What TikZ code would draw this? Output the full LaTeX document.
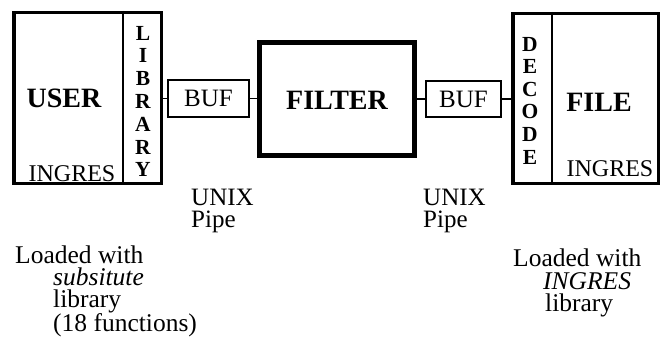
\documentclass[tikz,border=0pt]{standalone}
\usepackage{fontspec}
\setmainfont{Liberation Serif}
\usetikzlibrary{positioning}

\tikzset{
    procbox/.style={draw, line width=3.5pt, inner sep=0pt},
    bufbox/.style={draw, line width=1.8pt, inner sep=0pt, font=\fontsize{25}{25}\selectfont},
    pipeline/.style={line width=1.8pt},
    boxtitle/.style={inner sep=0pt, font=\fontsize{28}{28}\selectfont\bfseries},
    boxsub/.style={inner sep=0pt, font=\fontsize{24}{24}\selectfont},
    vletter/.style={inner sep=0pt, font=\fontsize{21.5}{21.5}\selectfont\bfseries},
    note/.style={anchor=north west, align=left, inner sep=0pt, font=\fontsize{25}{22}\selectfont},
}

\begin{document}
\begin{tikzpicture}[x=1pt, y=-1pt]
    \useasboundingbox (0,0) rectangle (663,337);

    % Left: user process with its library
    \node[procbox, minimum width=147.5pt, minimum height=170.5pt] (user) at (87.5,98) {};
    \coordinate (userdiv) at (123,0);
    \draw[pipeline] (user.north -| userdiv) -- (user.south -| userdiv);
    \node[boxtitle] (usertitle) at (64,98) {USER};
    \node[boxsub] (useringres) at (72,174) {INGRES};
    \foreach \ch [count=\i from 0] in {L,I,B,R,A,R,Y}
        \node[vletter] (lib\i) at (143,33+22.8*\i) {\ch};

    % Middle: buffers and filter
    \node[bufbox, minimum width=81.2pt, minimum height=37.2pt] (bufa) at (208.5,98.5) {BUF};
    \node[procbox, line width=5pt, minimum width=155pt, minimum height=113pt] (filter) at (337,99) {};
    \node[boxtitle] (filtertitle) at (337,100) {FILTER};
    \node[bufbox, minimum width=75.2pt, minimum height=36.2pt] (bufb) at (463.5,99) {BUF};

    % Right: file process with decoder
    \node[procbox, minimum width=145.5pt, minimum height=169.5pt] (file) at (585.5,98.5) {};
    \coordinate (filediv) at (552,0);
    \draw[pipeline] (file.north -| filediv) -- (file.south -| filediv);
    \node[boxtitle] (filetitle) at (599,102) {FILE};
    \node[boxsub] (fileingres) at (610,169) {INGRES};
    \foreach \ch [count=\i from 0] in {D,E,C,O,D,E}
        \node[vletter] (dec\i) at (530,44+22.6*\i) {\ch};

    % Pipes between the boxes
    \draw[pipeline] (bufa.west -| user.east) -- (bufa.west);
    \draw[pipeline] (bufa.east) -- (bufa.east -| filter.west);
    \draw[pipeline] (filter.east |- bufb.west) -- (bufb.west);
    \draw[pipeline] (bufb.east) -- (bufb.east -| file.west);

    % Labels below
    \node[note] (pipea) at (191,189) {UNIX\\Pipe};
    \node[note] (pipeb) at (423,189) {UNIX\\Pipe};
    \node[note, font=\fontsize{25.5}{21.6}\selectfont] (loada) at (15,246)
        {Loaded with\\\hspace*{38pt}\textit{subsitute}\\\hspace*{38pt}library\\\hspace*{38pt}(18 functions)};
    \node[note, font=\fontsize{25.5}{22.5}\selectfont] (loadb) at (513,249)
        {Loaded with\\\hspace*{30pt}\textit{INGRES}\\\hspace*{32pt}library};
\end{tikzpicture}
\end{document}
